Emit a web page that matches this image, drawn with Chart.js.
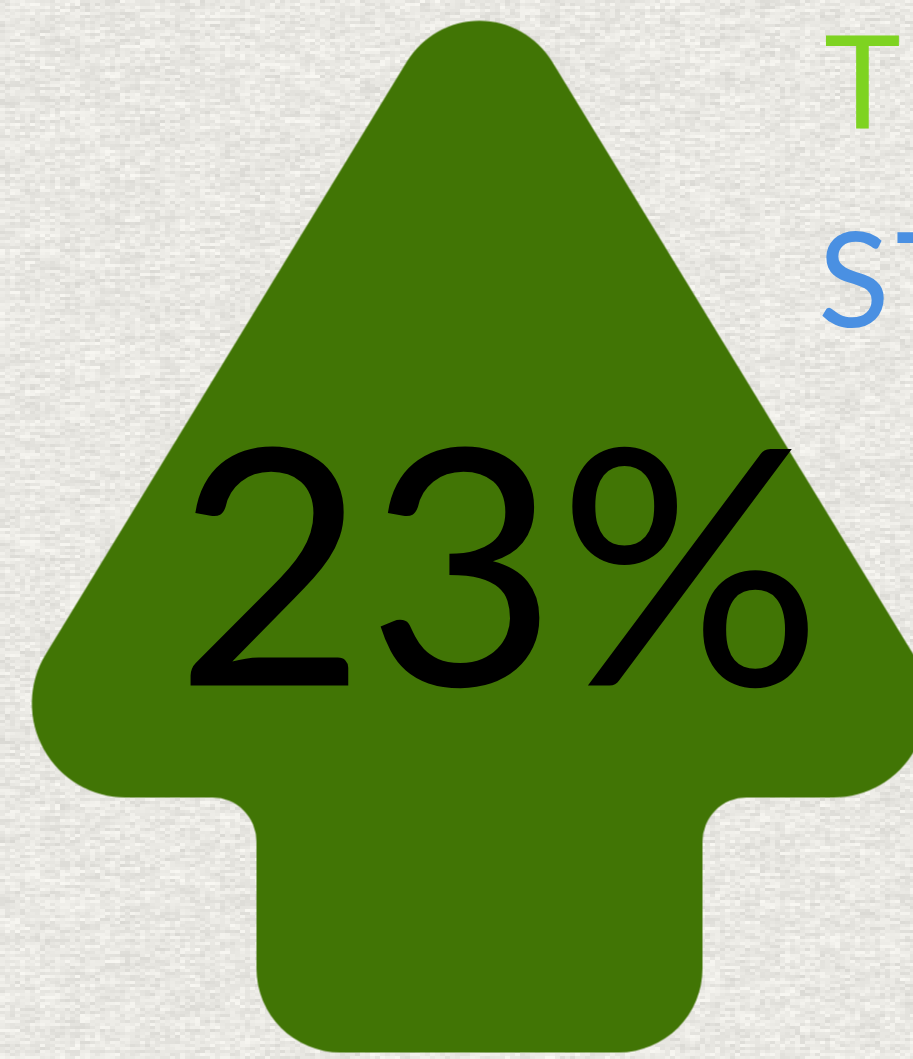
<!DOCTYPE html>
<html>
<head>
<meta charset="utf-8">
<script src="https://cdn.jsdelivr.net/npm/chart.js@4.4.1/dist/chart.umd.min.js"></script>
<style>
  html, body { margin: 0; padding: 0; background: #e9e8e3; overflow: hidden; }
  #c { display: block; }
</style>
</head>
<body>
<canvas id="c" width="913" height="1059"></canvas>
<script>
// ---- data ----
const CATEGORIES = ["Growth"];
const VALUES = [23];
const VALUE_SUFFIX = "%";
const TITLE_TEXT = "T";
const SUBTITLE_TEXT = "ST";
const Y_MIN = 0;
const Y_MAX = 46;

// ---- styles ----
const ARROW_COLOR = "#417505";
const LABEL_COLOR = "#000000";
const TITLE_COLOR = "#7ed321";
const SUBTITLE_COLOR = "#4a90e2";

// arrow pointStyle (shape drawn relative to the data point)
function makeArrow() {
  const W = 1080, H = 1200;
  const c = document.createElement("canvas");
  c.width = W; c.height = H;
  const g = c.getContext("2d");
  g.translate(W / 2, H / 2);
  const apexY = -594, baseY = 261, stemBottom = 516, headHalf = 521, stemHalf = 223;
  g.fillStyle = ARROW_COLOR;
  g.beginPath();
  g.moveTo(0, stemBottom);
  g.arcTo(stemHalf, stemBottom, stemHalf, baseY, 84);
  g.arcTo(stemHalf, baseY, headHalf, baseY, 44);
  g.arcTo(headHalf, baseY, 0, apexY, 94);
  g.arcTo(0, apexY, -headHalf, baseY, 85);
  g.arcTo(-headHalf, baseY, -stemHalf, baseY, 94);
  g.arcTo(-stemHalf, baseY, -stemHalf, stemBottom, 44);
  g.arcTo(-stemHalf, stemBottom, 0, stemBottom, 84);
  g.closePath();
  g.fill();
  return c;
}

// paper texture (deterministic hash)
function makePaper(w, h) {
  const c = document.createElement("canvas");
  c.width = w; c.height = h;
  const g = c.getContext("2d");
  const img = g.createImageData(w, h);
  const hash = (a, b) => { const s = Math.sin(a * 127.1 + b * 311.7) * 43758.5453; return s - Math.floor(s); };
  const bw = 5, bh = 3;
  for (let y = 0; y < h; y++) {
    const by = Math.floor(y / bh);
    for (let x = 0; x < w; x++) {
      const bx = Math.floor(x / bw);
      const v = 0.55 * hash(bx, by) + 0.45 * hash(Math.floor(bx / 4) + 1000, by);
      const base = 216 + v * 32;
      const i = (y * w + x) * 4;
      img.data[i] = base + 1;
      img.data[i + 1] = base;
      img.data[i + 2] = base - 5;
      img.data[i + 3] = 255;
    }
  }
  g.putImageData(img, 0, 0);
  return c;
}

const paper = makePaper(913, 1059);
const arrow = makeArrow();

const bgPlugin = {
  id: "paper",
  beforeDraw(chart) {
    chart.ctx.save();
    chart.ctx.drawImage(paper, 0, 0);
    chart.ctx.restore();
  }
};

const labelPlugin = {
  id: "valueLabel",
  afterDatasetsDraw(chart) {
    const ctx = chart.ctx;
    const meta = chart.getDatasetMeta(0);
    meta.data.forEach((pt, i) => {
      const text = VALUES[i] + VALUE_SUFFIX;
      ctx.save();
      ctx.font = "400 330px Lato";
      ctx.fillStyle = LABEL_COLOR;
      ctx.textAlign = "left";
      ctx.textBaseline = "alphabetic";
      const m = ctx.measureText(text);
      const inkLeft = pt.x - 289;
      ctx.fillText(text, inkLeft + m.actualBoundingBoxLeft, pt.y + 149);
      ctx.restore();
    });
  },
  afterDraw(chart) {
    const ctx = chart.ctx;
    ctx.save();
    ctx.textAlign = "left";
    ctx.textBaseline = "alphabetic";
    ctx.font = "400 130px Lato";
    ctx.fillStyle = TITLE_COLOR;
    let m = ctx.measureText(TITLE_TEXT);
    ctx.fillText(TITLE_TEXT, 825 + m.actualBoundingBoxLeft, 129);
    ctx.font = "400 132px Lato";
    ctx.fillStyle = SUBTITLE_COLOR;
    ctx.letterSpacing = "6px";
    m = ctx.measureText(SUBTITLE_TEXT);
    ctx.fillText(SUBTITLE_TEXT, 822 + m.actualBoundingBoxLeft, 327);
    ctx.restore();
  }
};

new Chart(document.getElementById("c"), {
  type: "line",
  data: {
    labels: CATEGORIES,
    datasets: [{
      data: VALUES,
      showLine: false,
      pointStyle: arrow,
      pointRadius: 10,
      pointHoverRadius: 10,
      clip: false
    }]
  },
  options: {
    responsive: false,
    animation: false,
    devicePixelRatio: 1,
    layout: { padding: { left: 57, top: 25, right: 0, bottom: 0 } },
    events: [],
    scales: {
      x: { type: "category", display: false, offset: true },
      y: { type: "linear", display: false, min: Y_MIN, max: Y_MAX }
    },
    plugins: { legend: { display: false }, tooltip: { enabled: false }, title: { display: false } }
  },
  plugins: [bgPlugin, labelPlugin]
});
</script>
</body>
</html>
